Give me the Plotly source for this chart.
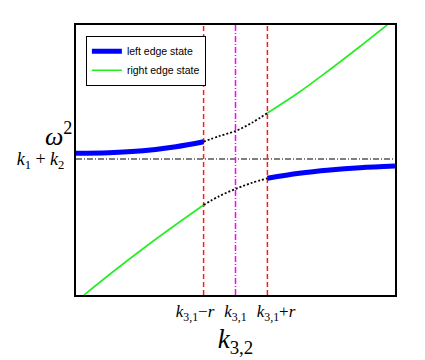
import plotly.graph_objects as go

# branch pieces (x in units of the k3,2 axis, 0..10; y relative to k1+k2)
left_x = [0, 1.03, 2.1, 3.13, 4.0]
left_y = [5.7, 6.3, 8.3, 12.3, 17.3]
dot_up_x = [4.0, 4.5, 5.0, 5.5, 6.0]
dot_up_y = [17.3, 23, 28, 36, 46]
green_up_x = [6.0, 6.96, 7.9, 8.84, 9.75]
green_up_y = [46, 66, 88, 111, 134]

green_lo_x = [0.25, 1.19, 2.13, 3.07, 4.0]
green_lo_y = [-136, -112, -89, -67, -46]
dot_lo_x = [4.0, 4.5, 5.0, 5.5, 6.0]
dot_lo_y = [-46, -37, -30, -24, -19.3]
right_x = [6.0, 7.0, 7.96, 8.9, 10]
right_y = [-19.3, -14.3, -11, -8.7, -7]

k31 = 5
r = 1
xtick_pos = [3.73, 5.0, 6.27]
xticklabels = ["<i>k</i><sub>3,1</sub>\u2212<i>r</i>", "<i>k</i><sub>3,1</sub>",
               "<i>k</i><sub>3,1</sub>+<i>r</i>"]
y_lo, y_hi = -136, 134

fig = go.Figure()

# reference lines drawn as traces
fig.add_trace(go.Scatter(x=[0, 10], y=[0, 0], mode="lines", showlegend=False,
                         line=dict(color="black", width=1, dash="6px,2px,1px,2px")))
for xv, col, dsh in [(k31 - r, "#ff1a1a", "5px,3px"), (k31 + r, "#ff1a1a", "5px,3px"),
                     (k31, "#ff00ff", "6px,2px,1px,2px")]:
    fig.add_trace(go.Scatter(x=[xv, xv], y=[y_lo, y_hi], mode="lines", showlegend=False,
                             line=dict(color=col, width=1.5, dash=dsh)))

fig.add_trace(go.Scatter(x=left_x, y=left_y, mode="lines", name="left edge state",
                         line=dict(color="blue", width=5, shape="spline")))
fig.add_trace(go.Scatter(x=green_lo_x, y=green_lo_y, mode="lines", name="right edge state",
                         line=dict(color="#22ee22", width=1.6, shape="spline")))
fig.add_trace(go.Scatter(x=right_x, y=right_y, mode="lines", showlegend=False,
                         line=dict(color="blue", width=5, shape="spline")))
fig.add_trace(go.Scatter(x=green_up_x, y=green_up_y, mode="lines", showlegend=False,
                         line=dict(color="#22ee22", width=1.6, shape="spline")))
fig.add_trace(go.Scatter(x=dot_up_x, y=dot_up_y, mode="lines", showlegend=False,
                         line=dict(color="black", width=1.8, dash="2px,2px", shape="spline")))
fig.add_trace(go.Scatter(x=dot_lo_x, y=dot_lo_y, mode="lines", showlegend=False,
                         line=dict(color="black", width=1.8, dash="2px,2px", shape="spline")))

serif = "Liberation Serif"

# page body adds an 8px offset, margins compensate
fig.update_layout(
    width=425, height=360,
    margin=dict(l=68, r=38, t=17, b=73),
    paper_bgcolor="white", plot_bgcolor="white",
    showlegend=True,
    legend=dict(x=0.031, y=0.96, xanchor="left", yanchor="top",
                bordercolor="black", borderwidth=1, bgcolor="white",
                font=dict(family="Liberation Sans", size=10.5, color="black"),
                itemwidth=30, tracegroupgap=0),
    xaxis=dict(range=[0, 10], showgrid=False, zeroline=False, automargin=False,
               showline=True, linecolor="black", linewidth=2, mirror=True,
               tickmode="array", tickvals=xtick_pos, ticktext=xticklabels,
               tickangle=0, ticks="",
               tickfont=dict(family=serif, size=17, color="black"),
               title=dict(text="<i>k</i><sub>3,2</sub>", standoff=0,
                          font=dict(family=serif, size=27, color="black"))),
    yaxis=dict(range=[y_lo, y_hi], showgrid=False, zeroline=False, automargin=False,
               showline=True, linecolor="black", linewidth=2, mirror=True,
               tickmode="array", tickvals=[0],
               ticktext=["<i>k</i><sub>1</sub> + <i>k</i><sub>2</sub>"],
               ticks="", ticklabelstandoff=6,
               tickfont=dict(family=serif, size=18, color="black")),
    annotations=[dict(x=0, y=6, xref="x", yref="y", xanchor="right", yanchor="bottom",
                      xshift=-2, showarrow=False,
                      text="<i>\u03c9</i><sup>2</sup>",
                      font=dict(family=serif, size=26, color="black"))],
)

fig.write_html("out.html")
